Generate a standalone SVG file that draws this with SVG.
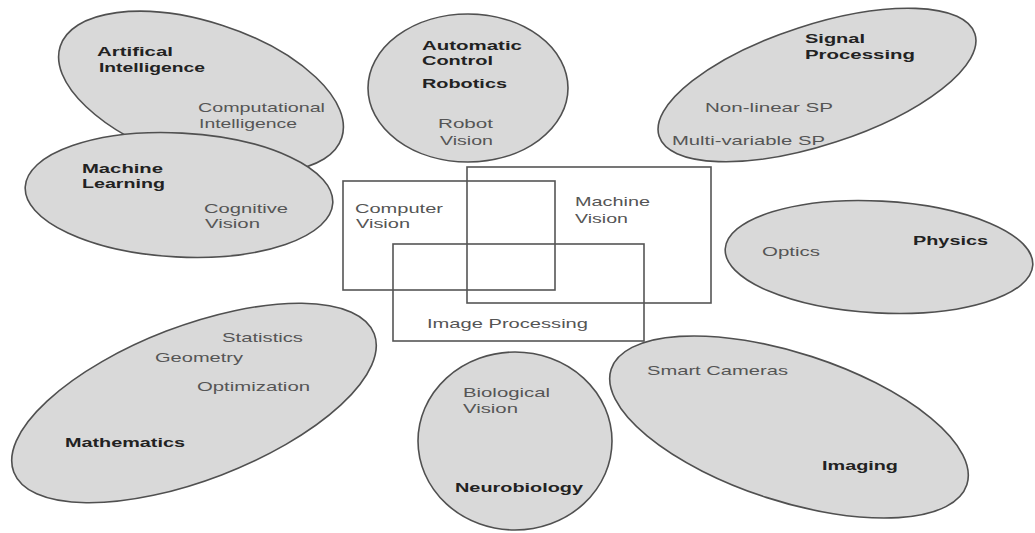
<svg xmlns="http://www.w3.org/2000/svg" width="1035" height="533" viewBox="0 0 1035 533">
<style>
.bg{fill:#ffffff}
.blob{fill:#d9d9d9;stroke:#505050;stroke-width:1.6}
.box{fill:none;stroke:#555555;stroke-width:1.6}
.t{font-family:"Liberation Sans",Arial,sans-serif;font-size:13px;fill:#555555}
.b{font-family:"Liberation Sans",Arial,sans-serif;font-size:13.5px;font-weight:bold;fill:#222222}
</style>
<rect class="bg" x="0" y="0" width="1035" height="533"/>
<g id="artificial-intelligence">
<ellipse class="blob" cx="201" cy="92" rx="148" ry="70" transform="rotate(18 201 92)"/>
<text class="b" x="97" y="56" textLength="76" lengthAdjust="spacingAndGlyphs">Artifical</text>
<text class="b" x="99" y="72" textLength="106" lengthAdjust="spacingAndGlyphs">Intelligence</text>
<text class="t" x="198" y="112" textLength="127" lengthAdjust="spacingAndGlyphs">Computational</text>
<text class="t" x="199" y="128" textLength="98" lengthAdjust="spacingAndGlyphs">Intelligence</text>
</g>
<g id="machine-learning">
<ellipse class="blob" cx="179" cy="195" rx="154" ry="62" transform="rotate(3 179 195)"/>
<text class="b" x="82" y="173" textLength="81" lengthAdjust="spacingAndGlyphs">Machine</text>
<text class="b" x="82" y="188" textLength="83" lengthAdjust="spacingAndGlyphs">Learning</text>
<text class="t" x="204" y="213" textLength="84" lengthAdjust="spacingAndGlyphs">Cognitive</text>
<text class="t" x="205" y="228" textLength="55" lengthAdjust="spacingAndGlyphs">Vision</text>
</g>
<g id="automatic-control">
<ellipse class="blob" cx="468" cy="88" rx="100" ry="74"/>
<text class="b" x="422" y="50" textLength="100" lengthAdjust="spacingAndGlyphs">Automatic</text>
<text class="b" x="422" y="65" textLength="71" lengthAdjust="spacingAndGlyphs">Control</text>
<text class="b" x="422" y="88" textLength="85" lengthAdjust="spacingAndGlyphs">Robotics</text>
<text class="t" x="438" y="128" textLength="55" lengthAdjust="spacingAndGlyphs">Robot</text>
<text class="t" x="440" y="145" textLength="53" lengthAdjust="spacingAndGlyphs">Vision</text>
</g>
<g id="signal-processing">
<ellipse class="blob" cx="817" cy="85" rx="166" ry="60" transform="rotate(-18 817 85)"/>
<text class="b" x="805" y="43" textLength="60" lengthAdjust="spacingAndGlyphs">Signal</text>
<text class="b" x="805" y="59" textLength="110" lengthAdjust="spacingAndGlyphs">Processing</text>
<text class="t" x="705" y="112" textLength="128" lengthAdjust="spacingAndGlyphs">Non-linear SP</text>
<text class="t" x="672" y="145" textLength="153" lengthAdjust="spacingAndGlyphs">Multi-variable SP</text>
</g>
<g id="physics">
<ellipse class="blob" cx="879" cy="257" rx="154" ry="56" transform="rotate(3 879 257)"/>
<text class="t" x="762" y="256" textLength="58" lengthAdjust="spacingAndGlyphs">Optics</text>
<text class="b" x="913" y="245" textLength="75" lengthAdjust="spacingAndGlyphs">Physics</text>
</g>
<g id="mathematics">
<ellipse class="blob" cx="194" cy="403" rx="193" ry="77" transform="rotate(-21 194 403)"/>
<text class="t" x="222" y="342" textLength="81" lengthAdjust="spacingAndGlyphs">Statistics</text>
<text class="t" x="155" y="362" textLength="88" lengthAdjust="spacingAndGlyphs">Geometry</text>
<text class="t" x="197" y="391" textLength="113" lengthAdjust="spacingAndGlyphs">Optimization</text>
<text class="b" x="65" y="447" textLength="120" lengthAdjust="spacingAndGlyphs">Mathematics</text>
</g>
<g id="neurobiology">
<ellipse class="blob" cx="515" cy="441" rx="97" ry="89"/>
<text class="t" x="463" y="397" textLength="87" lengthAdjust="spacingAndGlyphs">Biological</text>
<text class="t" x="463" y="413" textLength="55" lengthAdjust="spacingAndGlyphs">Vision</text>
<text class="b" x="455" y="492" textLength="128" lengthAdjust="spacingAndGlyphs">Neurobiology</text>
</g>
<g id="imaging">
<ellipse class="blob" cx="789" cy="427" rx="187" ry="74" transform="rotate(18 789 427)"/>
<text class="t" x="647" y="375" textLength="141" lengthAdjust="spacingAndGlyphs">Smart Cameras</text>
<text class="b" x="822" y="470" textLength="76" lengthAdjust="spacingAndGlyphs">Imaging</text>
</g>
<g id="computer-vision">
<rect class="box" x="343" y="181" width="212" height="109"/>
<text class="t" x="355" y="213" textLength="88" lengthAdjust="spacingAndGlyphs">Computer</text>
<text class="t" x="356" y="228" textLength="54" lengthAdjust="spacingAndGlyphs">Vision</text>
</g>
<g id="machine-vision">
<rect class="box" x="467" y="167" width="244" height="136"/>
<text class="t" x="575" y="206" textLength="75" lengthAdjust="spacingAndGlyphs">Machine</text>
<text class="t" x="575" y="223" textLength="53" lengthAdjust="spacingAndGlyphs">Vision</text>
</g>
<g id="image-processing">
<rect class="box" x="393" y="244" width="251" height="97"/>
<text class="t" x="427" y="328" textLength="161" lengthAdjust="spacingAndGlyphs">Image Processing</text>
</g>
<g id="connectors"/>
</svg>
